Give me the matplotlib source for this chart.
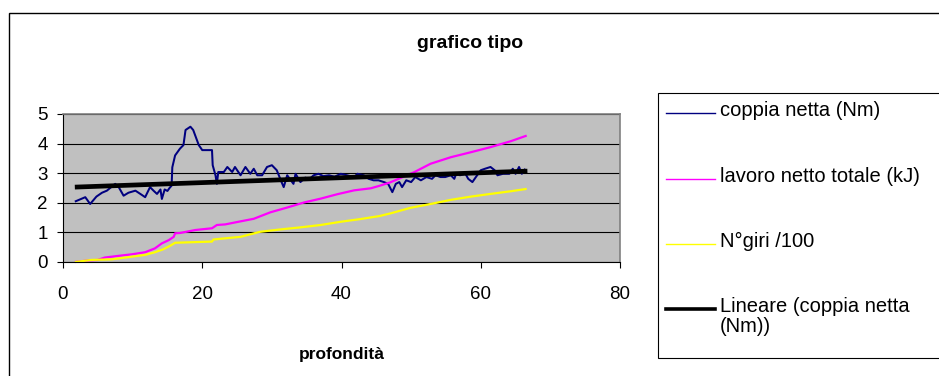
import numpy as np
import matplotlib.pyplot as plt
from matplotlib.patches import Rectangle
from matplotlib.lines import Line2D

plt.rcParams['font.family'] = ['Liberation Sans', 'DejaVu Sans']

# coppia netta (Nm)
coppia_x = [1.7, 3.2, 3.9, 4.8, 5.6, 6.3, 7.5, 8.0, 8.7, 9.4, 10.4, 11.3, 11.8,
            12.5, 13.0, 13.5, 14.0, 14.2, 14.6, 15.0, 15.3, 15.6, 15.7, 16.1,
            16.8, 17.3, 17.6, 18.3, 18.7, 19.5, 20.0, 21.4, 21.5, 21.9, 22.1,
            22.3, 23.1, 23.6, 24.3, 24.7, 25.5, 26.2, 26.9, 27.4, 27.9, 28.6,
            29.3, 30.0, 30.7, 31.5, 31.7, 32.2, 32.6, 33.1, 33.4, 34.1, 34.8,
            35.4, 36.0, 36.7, 37.4, 38.2, 39.0, 39.9, 40.8, 41.8, 42.3, 43.2,
            43.9, 44.6, 45.3, 46.1, 46.7, 47.3, 47.8, 48.3, 48.7, 49.3, 50.0,
            50.6, 51.4, 52.2, 53.0, 53.5, 54.2, 54.9, 55.7, 56.2, 56.5, 57.0,
            57.8, 58.2, 58.8, 59.3, 60.0, 60.6, 61.4, 62.0, 62.4, 63.2, 64.1,
            64.6, 65.0, 65.5, 65.9, 66.4]
coppia_y = [2.04, 2.19, 1.96, 2.21, 2.34, 2.41, 2.64, 2.53, 2.24, 2.34, 2.41, 2.27, 2.19,
            2.53, 2.41, 2.30, 2.45, 2.13, 2.45, 2.40, 2.50, 2.58, 3.20, 3.60,
            3.83, 3.95, 4.46, 4.57, 4.46, 3.95, 3.78, 3.78, 3.27, 2.93, 2.64,
            3.04, 3.04, 3.21, 3.04, 3.21, 2.93, 3.21, 2.98, 3.15, 2.93, 2.93,
            3.21, 3.27, 3.10, 2.64, 2.53, 2.93, 2.80, 2.64, 2.98, 2.70, 2.85,
            2.80, 2.93, 2.98, 2.90, 2.93, 2.88, 2.98, 2.93, 2.87, 2.98, 2.93,
            2.81, 2.76, 2.76, 2.70, 2.64, 2.36, 2.64, 2.70, 2.53, 2.76, 2.70,
            2.87, 2.76, 2.87, 2.81, 2.93, 2.87, 2.87, 2.93, 2.81, 3.00, 2.93,
            2.98, 2.81, 2.70, 2.87, 3.10, 3.15, 3.21, 3.10, 2.93, 2.98, 2.98,
            3.15, 2.98, 3.21, 2.98, 3.15]

# lavoro netto totale (kJ)
lavoro_x = [1.7, 3.5, 5.0, 6.0, 7.7, 9.9, 11.8, 13.2, 14.2, 15.2, 15.9, 16.1, 16.8,
            19.0, 21.4, 22.1, 23.3, 25.0, 27.4, 29.8, 32.2, 34.6, 37.0, 39.4,
            41.8, 44.2, 45.4, 47.0, 50.4, 52.8, 55.7, 58.6, 61.4, 64.3, 66.6]
lavoro_y = [0.0, 0.05, 0.07, 0.15, 0.20, 0.26, 0.33, 0.46, 0.63, 0.74, 0.85, 0.97, 0.98,
            1.08, 1.14, 1.25, 1.27, 1.35, 1.46, 1.68, 1.84, 2.01, 2.14, 2.29,
            2.42, 2.49, 2.57, 2.69, 3.03, 3.32, 3.54, 3.71, 3.88, 4.08, 4.27]

# N°giri /100
giri_x = [1.7, 4.1, 7.0, 9.9, 11.8, 13.2, 14.4, 15.4, 16.1, 21.4, 21.6, 23.3, 25.5,
          28.3, 31.2, 34.1, 37.0, 39.9, 42.7, 45.4, 47.0, 49.9, 52.8, 55.7,
          58.6, 61.4, 64.3, 66.6]
giri_y = [0.0, 0.07, 0.09, 0.18, 0.24, 0.33, 0.43, 0.55, 0.65, 0.69, 0.76, 0.80, 0.85,
          1.02, 1.10, 1.17, 1.25, 1.36, 1.45, 1.55, 1.64, 1.83, 1.96, 2.10,
          2.21, 2.30, 2.39, 2.47]

# Lineare (coppia netta (Nm))
trend_x = [1.7, 66.7]
trend_y = [2.53, 3.07]

labels = ["coppia netta (Nm)", "lavoro netto totale (kJ)", "N°giri /100",
          "Lineare (coppia netta\n(Nm))"]
colors = ["#000080", "#FF00FF", "#FFFF00", "#000000"]
widths = [1.45, 1.6, 1.6, 3.4]
legend_widths = [1.0, 1.0, 1.0, 2.6]

W, H = 939, 376
fig = plt.figure(figsize=(W / 100, H / 100), dpi=100)

# outer chart border (runs off the right and bottom edges)
fig.add_artist(Rectangle((9 / W, -0.2), 1.2, 1 - 13 / H + 0.2,
                         transform=fig.transFigure, fill=False,
                         edgecolor="black", lw=1.0))

ax = fig.add_axes([63 / W, 1 - 262 / H, (620 - 63) / W, (262 - 114) / H])
ax.set_facecolor("#C0C0C0")

series = [(coppia_x, coppia_y), (lavoro_x, lavoro_y), (giri_x, giri_y),
          (trend_x, trend_y)]
for (xs, ys), c, lw in zip(series, colors, widths):
    ax.plot(xs, ys, color=c, lw=lw, clip_on=False, solid_capstyle="butt")

ax.set_xlim(0, 80)
ax.set_ylim(0, 5)
ax.set_xticks([0, 20, 40, 60, 80])
ax.set_yticks([0, 1, 2, 3, 4, 5])
ax.yaxis.grid(True, color="black", lw=0.8)
ax.set_axisbelow(True)
ax.tick_params(axis="both", direction="out", length=4, width=0.8,
               labelsize=13.5, color="black")
ax.tick_params(axis="y", pad=7)
ax.tick_params(axis="x", pad=13)
for side in ["top", "right"]:
    ax.spines[side].set_color("#808080")
    ax.spines[side].set_linewidth(1.2)
for side in ["left", "bottom"]:
    ax.spines[side].set_color("black")
    ax.spines[side].set_linewidth(0.8)

fig.text(470 / W, 1 - 43 / H, "grafico tipo", ha="center", va="center",
         fontsize=14, fontweight="bold")
fig.text(342 / W, 1 - 354 / H, "profondità", ha="center", va="center",
         fontsize=12.5, fontweight="bold")

# legend box (runs off the right edge)
fig.add_artist(Rectangle((658 / W, 1 - 358 / H), 0.5, (358 - 93) / H,
                         transform=fig.transFigure, facecolor="white",
                         edgecolor="black", lw=0.8))
legend_y = [113, 179, 244, 309]
for yy, lab, c, lw in zip(legend_y, labels, colors, legend_widths):
    fig.add_artist(Line2D([666 / W, 715 / W], [1 - yy / H, 1 - yy / H],
                          transform=fig.transFigure, color=c, lw=lw))
    fig.text(720 / W, 1 - (yy - 12) / H, lab, ha="left", va="top",
             fontsize=14.5, linespacing=1.05)

fig.savefig("out.png", dpi=100)
